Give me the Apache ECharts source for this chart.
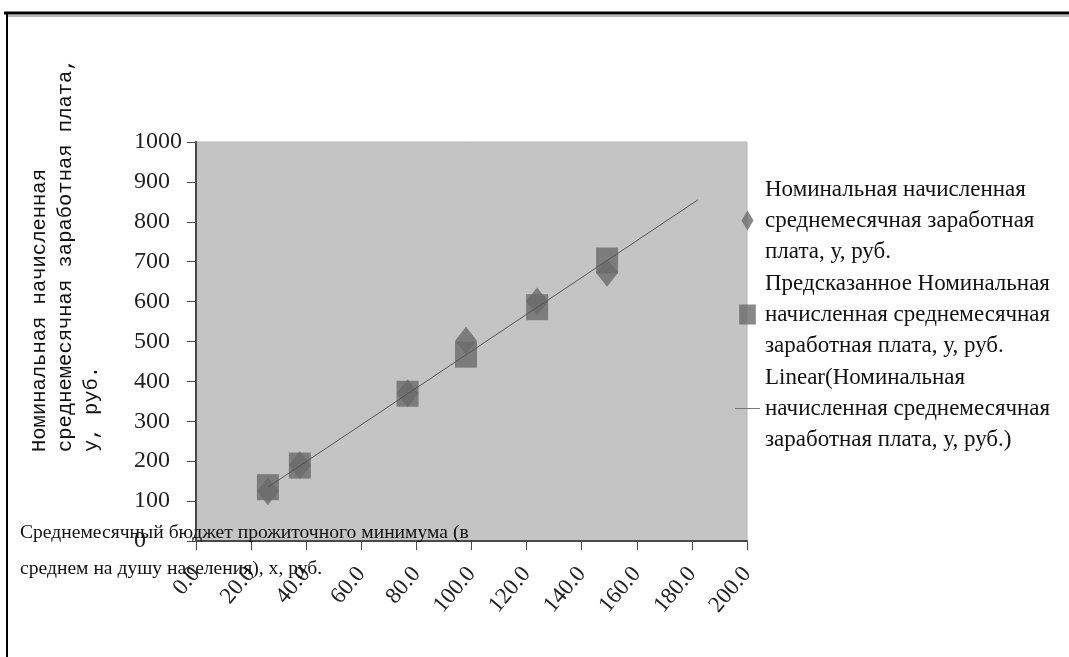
<!DOCTYPE html>
<html><head><meta charset="utf-8">
<script src="https://cdn.jsdelivr.net/npm/echarts@6.0.0/dist/echarts.min.js"></script>
<style>html,body{margin:0;padding:0;background:#fff}#c{width:1069px;height:657px}</style>
</head><body><div id="c"></div>
<script>
// Data
const xValues = [26.1, 37.7, 76.8, 98.0, 123.8, 149.2];
const actualY = [125, 190, 370, 502, 600, 672];
const predictedY = [135, 189, 369, 467, 586, 703];
const trendX = [26.1, 182.2];
const trendY = [135, 855];

const seriesNames = [
  'Номинальная начисленная\nсреднемесячная заработная\nплата, у, руб.',
  'Предсказанное Номинальная\nначисленная среднемесячная\nзаработная плата, у, руб.',
  'Linear(Номинальная\nначисленная среднемесячная\nзаработная плата, у, руб.)'
];
const yTitle = 'Номинальная начисленная\nсреднемесячная заработная плата,\nу, руб.';
const xTitle = 'Среднемесячный бюджет прожиточного минимума (в\nсреднем на душу населения), х, руб.';

const serif = '"Liberation Serif", "Times New Roman", serif';
const chart = echarts.init(document.getElementById('c'), null, {renderer: 'canvas'});
chart.setOption({
  animation: false,
  backgroundColor: '#ffffff',
  grid: {left: 196, top: 142, right: 322, bottom: 116, show: true,
         backgroundColor: '#c4c4c4', borderColor: '#b4b4b4', borderWidth: 1},
  xAxis: {
    type: 'value', min: 0, max: 200, interval: 20,
    splitLine: {show: false},
    axisLine: {onZero: false, lineStyle: {color: '#4a4a4a', width: 2}},
    axisTick: {show: true, length: 9, lineStyle: {color: '#4a4a4a', width: 1}},
    axisLabel: {rotate: 50, margin: 29, fontFamily: serif, fontSize: 23, color: '#222',
                formatter: v => v.toFixed(1)}
  },
  yAxis: {
    type: 'value', min: 0, max: 1000, interval: 100,
    splitLine: {show: false},
    axisLine: {show: true, onZero: false, lineStyle: {color: '#4a4a4a', width: 2}},
    axisTick: {show: true, length: 9, lineStyle: {color: '#4a4a4a', width: 1}},
    axisLabel: {margin: 62, align: 'left', fontFamily: serif, fontSize: 24, color: '#222',
                formatter: v => String(v)}
  },
  legend: {
    orient: 'vertical', left: 735, top: 174, padding: 0,
    itemWidth: 25, itemHeight: 20, itemGap: 1, symbolKeepAspect: true,
    textStyle: {fontFamily: serif, fontSize: 23, lineHeight: 31, color: '#111'},
    data: [
      {name: seriesNames[0], icon: 'path://M6,0L12,10L6,20L0,10Z'},
      {name: seriesNames[1], icon: 'path://M0,0L15,0L15,18L0,18Z'},
      {name: seriesNames[2], icon: 'path://M0,0L25,0L25,1L0,1Z', itemStyle: {color: '#777'}}
    ]
  },
  graphic: [
    {type: 'line', shape: {x1: 4, y1: 13, x2: 1069, y2: 13}, style: {stroke: '#000', lineWidth: 3}},
    {type: 'line', shape: {x1: 8, y1: 16, x2: 1069, y2: 16}, style: {stroke: '#bbb', lineWidth: 2}},
    {type: 'line', shape: {x1: 7, y1: 12, x2: 7, y2: 657}, style: {stroke: '#000', lineWidth: 2}},
    {type: 'text', x: 27, y: 452, rotation: Math.PI / 2,
     style: {text: yTitle, fontFamily: '"Liberation Mono", monospace', fontSize: 20.5, lineHeight: 26,
             align: 'left', verticalAlign: 'top', fill: '#111'}},
    {type: 'text', x: 20, y: 515, z: 100,
     style: {text: xTitle, fontFamily: serif, fontSize: 19.6, lineHeight: 36,
             align: 'left', verticalAlign: 'top', fill: '#111'}}
  ],
  series: [
    {name: seriesNames[0], type: 'scatter', symbol: 'diamond', symbolSize: [22, 28],
     itemStyle: {color: '#6a6a6a'}, data: xValues.map((x, i) => [x, actualY[i]])},
    {name: seriesNames[1], type: 'scatter', symbol: 'rect', symbolSize: [22, 26],
     itemStyle: {color: '#6a6a6a'}, data: xValues.map((x, i) => [x, predictedY[i]])},
    {name: seriesNames[2], type: 'line', symbol: 'none', showSymbol: false,
     lineStyle: {color: '#555', width: 1}, itemStyle: {color: '#555'},
     data: trendX.map((x, i) => [x, trendY[i]])}
  ]
});
</script></body></html>
